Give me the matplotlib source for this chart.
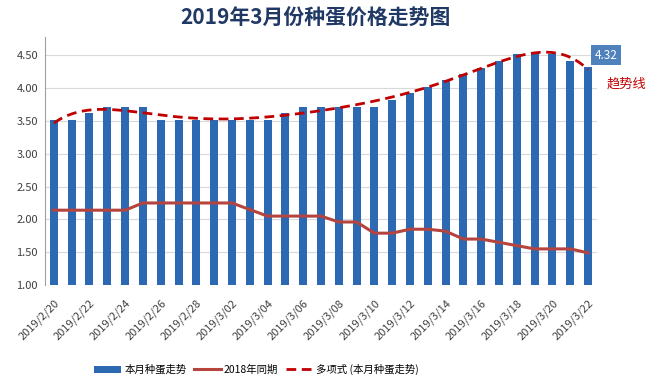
import numpy as np
import matplotlib
matplotlib.use("Agg")
import matplotlib.pyplot as plt

plt.rcParams['font.family'] = ['Noto Sans CJK SC', 'DejaVu Sans']

# 2019/2/20 .. 2019/3/22, one value per day
dates = ["2019/2/%d" % d for d in range(20, 29)] + ["2019/3/%02d" % d for d in range(1, 23)]
price_2019 = [3.52, 3.52, 3.62, 3.72, 3.72, 3.72, 3.52, 3.52, 3.52, 3.52,
              3.52, 3.52, 3.52, 3.62, 3.72, 3.72, 3.72, 3.72, 3.72, 3.82,
              3.93, 4.02, 4.12, 4.22, 4.30, 4.42, 4.52, 4.53, 4.52, 4.42, 4.32]
price_2018 = [2.14, 2.14, 2.14, 2.14, 2.14, 2.25, 2.25, 2.25, 2.25, 2.25,
              2.25, 2.15, 2.05, 2.05, 2.05, 2.05, 1.96, 1.96, 1.79, 1.79,
              1.85, 1.85, 1.82, 1.70, 1.70, 1.65, 1.60, 1.55, 1.55, 1.55, 1.49]

x = np.arange(len(dates))
# excel style polynomial trendline of the bar series
coef = np.polyfit(x, price_2019, 6)
xs = np.linspace(0, len(dates) - 1, 300)
trend = np.polyval(coef, xs)

fig = plt.figure(figsize=(6.49, 3.87), dpi=100)
ax = fig.add_axes([0.0693, 0.2636, 0.8505, 0.6408])

ax.bar(x, price_2019, width=0.45, color="#2D69B2", zorder=2, label="本月种蛋走势")
ax.plot(x, price_2018, color="#B5443F", lw=2.2, zorder=3, label="2018年同期")
ax.plot(xs, trend, color="#C00000", lw=2, ls=(0, (3.5, 2)), zorder=4,
        label="多项式 (本月种蛋走势)")

ax.set_xlim(-0.5, len(dates) - 0.5)
ax.set_ylim(1.0, 4.78)
yt = np.arange(1.0, 4.51, 0.5)
ax.set_yticks(yt)
ax.set_yticklabels(["%.2f" % v for v in yt], fontsize=8, color="#404040")
ax.set_xticks(x[::2])
ax.set_xticklabels(dates[::2], rotation=45, ha="right", rotation_mode="anchor",
                   fontsize=8, color="#404040")
ax.tick_params(axis="y", length=0, pad=5)
ax.tick_params(axis="x", length=0, pad=9)
ax.grid(axis="y", color="#D9D9D9", lw=0.8, zorder=0)
for s in ["top", "right", "bottom"]:
    ax.spines[s].set_visible(False)
ax.spines["left"].set_color("#A0A0A0")

# label on last bar
ax.text(x[-1] + 1.0, 4.50, "%.2f" % price_2019[-1],
        fontsize=8.5, color="white", ha="center", va="center", zorder=5,
        bbox=dict(boxstyle="square,pad=0.3", fc="#4F81BD", ec="none"))
fig.text(0.965, 0.783, "趋势线", fontsize=9.5, color="#C00000", ha="center", va="center")

fig.text(0.486, 0.952, "2019年3月份种蛋价格走势图", fontsize=15, fontweight="bold",
         color="#1F3864", ha="center", va="center")

h, l = ax.get_legend_handles_labels()
order = [2, 0, 1]
fig.legend([h[i] for i in order], [l[i] for i in order],
           loc="center", bbox_to_anchor=(0.395, 0.045), ncol=3, frameon=False,
           fontsize=7.5, handlelength=2.6, columnspacing=0.7, handletextpad=0.3)

fig.savefig("out.png", dpi=100)
